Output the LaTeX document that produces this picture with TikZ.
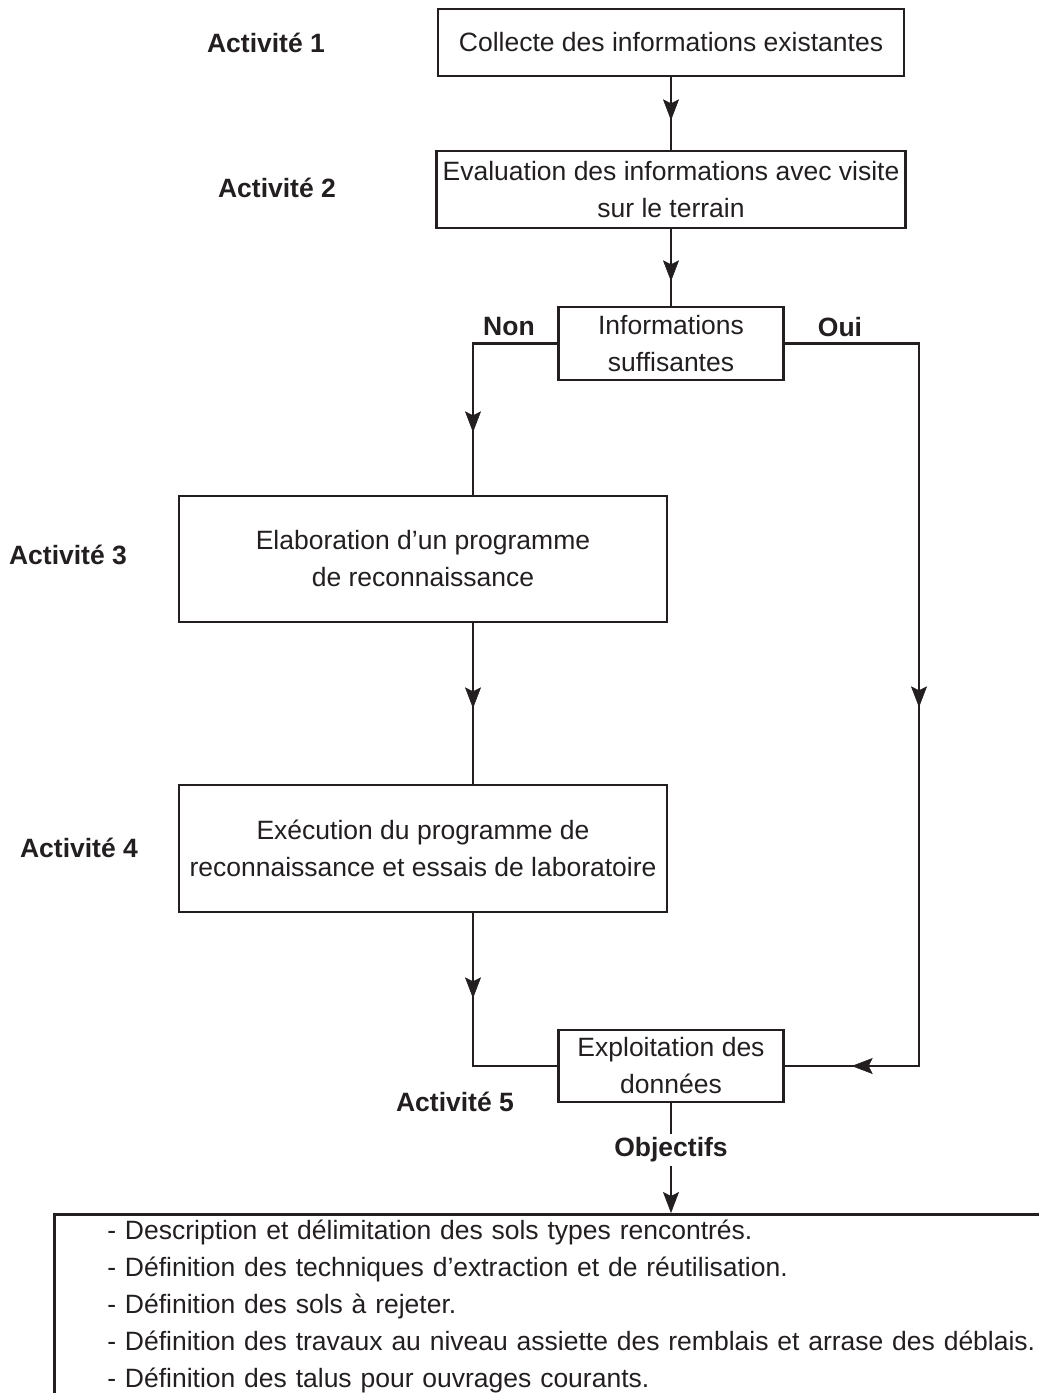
\documentclass[tikz,border=0pt]{standalone}
\usepackage{fontspec}
\setmainfont{Liberation Sans}
\usetikzlibrary{arrows.meta,decorations.markings}
\definecolor{ink}{RGB}{35,31,32}
\tikzset{flowtip/.tip={Stealth[length=21pt,width=16pt,inset=4pt,fill=ink,line width=0.6pt]}}
\begin{document}
\begin{tikzpicture}[x=1pt,y=-1pt,
  every node/.style={text=ink},
  actlabel/.style={font=\fontsize{26.5}{37}\selectfont\bfseries},
  stepbox/.style={draw=ink,line width=2.6pt,inner sep=0pt,align=center,
    font=\fontsize{26.5}{37}\selectfont},
  conn/.style={draw=ink,line width=2.6pt},
  midarrow/.style={conn,postaction={decorate},
    decoration={markings,mark=at position #1 with {\arrow{flowtip}}}},
]
\clip (0,0) rectangle (1039,1393);

% process boxes
\node[stepbox,minimum width=466pt,minimum height=67pt] (b1) at (671,42.5)
  {Collecte des informations existantes};
\node[stepbox,minimum width=469pt,minimum height=77pt] (b2) at (671,189.5)
  {Evaluation des informations avec visite\\sur le terrain};
\node[stepbox,minimum width=225pt,minimum height=73pt] (b3) at (671,343.5)
  {Informations\\suffisantes};
\node[stepbox,minimum width=488pt,minimum height=126pt] (b4) at (423,559)
  {Elaboration d'un programme\\de reconnaissance};
\node[stepbox,minimum width=488pt,minimum height=127pt] (b5) at (423,848.5)
  {Exécution du programme de\\reconnaissance et essais de laboratoire};
\node[stepbox,minimum width=225pt,minimum height=72pt] (b6) at (671,1066)
  {Exploitation des\\données};

% activity labels
\node[actlabel] (a1) at (266,43) {Activité 1};
\node[actlabel] (a2) at (277,188) {Activité 2};
\node[actlabel] (a3) at (68,555) {Activité 3};
\node[actlabel] (a4) at (79,848) {Activité 4};
\node[actlabel] (a5) at (455,1102) {Activité 5};

% branch labels
\node[actlabel] (non) at (509,327) {Non};
\node[actlabel] (oui) at (840,327) {Oui};
\node[actlabel] (obj) at (671,1150) {Objectifs};

% objectives box (runs past the right and bottom edges)
\node[draw=ink,line width=2.6pt,anchor=north west,align=left,
  font=\fontsize{26.5}{37}\selectfont,
  inner xsep=53pt,inner ysep=6pt,text width=1100pt] (list) at (53,1213)
  {- Description et délimitation des sols types rencontrés.\\
   - Définition des techniques d'extraction et de réutilisation.\\
   - Définition des sols à rejeter.\\
   - Définition des travaux au niveau assiette des remblais et arrase des déblais.\\
   - Définition des talus pour ouvrages courants.};

% corners of the branches
\coordinate (nonC) at (473,343.5);
\coordinate (ouiB) at (919,1066);

% connectors
\path[midarrow=43pt] (b1.south) -- (b2.north);
\path[midarrow=52pt] (b2.south) -- (b3.north);
\path[midarrow=173pt] (b3.west) -- (nonC) -- (nonC |- b4.north);
\path[midarrow=85pt] (nonC |- b4.south) -- (nonC |- b5.north);
\path[midarrow=85pt] (nonC |- b5.south) |- (b6.west);
\path[conn,postaction={decorate},decoration={markings,
    mark=at position 498pt with {\arrow{flowtip}},
    mark=at position 924pt with {\arrow{flowtip}}}]
  (b3.east) -| (ouiB) -- (b6.east);
\path[conn] (b6.south) -- (obj.north);
\path[conn,-{flowtip}] (obj.south) -- (obj.south |- list.north);
\end{tikzpicture}
\end{document}
